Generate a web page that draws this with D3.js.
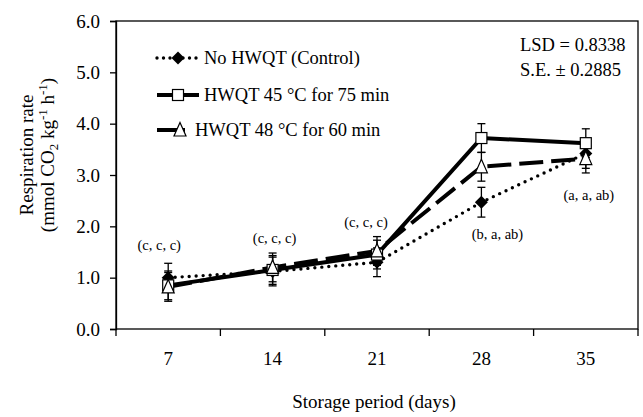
<!DOCTYPE html>
<html>
<head>
<meta charset="utf-8">
<script src="https://cdn.jsdelivr.net/npm/d3@7"></script>
<style>
  body { margin: 0; background: #fff; }
</style>
</head>
<body>
<svg id="chart" width="643" height="417"></svg>
<script>
// Storage days (categories)
const days = ["7", "14", "21", "28", "35"];
const yTicks = [0, 1, 2, 3, 4, 5, 6];

// Series values
const controlValues = [1.0, 1.12, 1.3, 2.47, 3.42];
const hwqt45Values = [0.85, 1.15, 1.45, 3.72, 3.62];
const hwqt48Values = [0.82, 1.2, 1.52, 3.16, 3.32];

// Standard error bars
const controlErr = [0.28, 0.28, 0.28, 0.29, 0.29];
const hwqt45Err = [0.28, 0.28, 0.28, 0.28, 0.28];
const hwqt48Err = [0.28, 0.28, 0.28, 0.28, 0.28];

// Significance letters per storage day
const letters = ["(c, c, c)", "(c, c, c)", "(c, c, c)", "(b, a, ab)", "(a, a, ab)"];

const FONT = "'Liberation Serif', 'Times New Roman', Times, serif";

const svg = d3.select("#chart").style("font-family", FONT);
const margin = { left: 116, right: 5, top: 21, bottom: 88 };
const width = 643, height = 417;

const x = d3.scaleBand()
    .domain(days)
    .range([margin.left, width - margin.right]);

const y = d3.scaleLinear()
    .domain([0, 6])
    .range([height - margin.bottom, margin.top]);

// plot frame
svg.append("rect")
    .attr("x", margin.left)
    .attr("y", margin.top)
    .attr("width", width - margin.right - margin.left)
    .attr("height", y(0) - margin.top)
    .attr("fill", "none")
    .attr("stroke", "#000")
    .attr("stroke-width", 1.3);

// y axis
const yAxis = svg.append("g")
    .attr("transform", `translate(${margin.left},0)`)
    .call(d3.axisLeft(y).tickValues(yTicks).tickFormat(d3.format(".1f")).tickSize(6).tickPadding(10))
    .attr("font-family", null)
    .attr("font-size", null);
yAxis.select(".domain").attr("stroke-width", 1.3);
yAxis.selectAll("line").attr("stroke-width", 1.3);
yAxis.selectAll("text")
    .style("font-family", FONT)
    .style("font-size", "19px")
    .attr("fill", "#000")
    .attr("dy", "0.33em");

// x axis: ticks sit at category boundaries
const bounds = days.map(d => x(d)).concat([x(days[days.length - 1]) + x.bandwidth()]);
const xg = svg.append("g");
xg.selectAll("line")
    .data(bounds)
    .enter()
    .append("line")
    .attr("x1", d => d).attr("x2", d => d)
    .attr("y1", y(0)).attr("y2", y(0) + 7)
    .attr("stroke", "#000")
    .attr("stroke-width", 1.3);
xg.selectAll("text")
    .data(days)
    .enter()
    .append("text")
    .attr("x", d => x(d) + x.bandwidth() / 2)
    .attr("y", 365)
    .attr("text-anchor", "middle")
    .style("font-family", FONT)
    .style("font-size", "19px")
    .text(d => d);

// axis titles
svg.append("text")
    .attr("x", 374)
    .attr("y", 408)
    .attr("text-anchor", "middle")
    .style("font-family", FONT)
    .style("font-size", "19px")
    .text("Storage period (days)");

const yTitle = svg.append("g")
    .attr("transform", "translate(33, 155) rotate(-90)");
yTitle.append("text")
    .attr("text-anchor", "middle")
    .style("font-family", FONT)
    .style("font-size", "19px")
    .text("Respiration  rate");
const yt2 = yTitle.append("text")
    .attr("y", 21)
    .attr("text-anchor", "middle")
    .style("font-family", FONT)
    .style("font-size", "19px");
yt2.append("tspan").text("(mmol CO");
yt2.append("tspan").attr("dy", 4).style("font-size", "13px").text("2");
yt2.append("tspan").attr("dy", -4).text(" kg");
yt2.append("tspan").attr("dy", -7).style("font-size", "13px").text("-1");
yt2.append("tspan").attr("dy", 7).text(" h");
yt2.append("tspan").attr("dy", -7).style("font-size", "13px").text("-1");
yt2.append("tspan").attr("dy", 7).text(")");

const series = [
    { name: "No HWQT (Control)", values: controlValues, err: controlErr, marker: "diamond", dash: "0,7", width: 3.4 },
    { name: "HWQT  45 \u00B0C for 75 min", values: hwqt45Values, err: hwqt45Err, marker: "square", dash: null, width: 4 },
    { name: "HWQT 48 \u00B0C for 60 min", values: hwqt48Values, err: hwqt48Err, marker: "triangle", dash: "24,8", width: 4 }
];

const cx = d => x(d) + x.bandwidth() / 2;

const line = d3.line()
    .x(d => cx(d.day))
    .y(d => y(d.v));

// lines
series.forEach(s => {
    const pts = days.map((d, i) => ({ day: d, v: s.values[i] }));
    svg.append("path")
        .datum(pts)
        .attr("d", line)
        .attr("fill", "none")
        .attr("stroke", "#000")
        .attr("stroke-width", s.width)
        .attr("stroke-linecap", s.dash === "0,7" ? "round" : "butt")
        .attr("stroke-dasharray", s.dash);
});

// error bars
series.forEach(s => {
    const g = svg.append("g");
    days.forEach((d, i) => {
        const top = y(s.values[i] + s.err[i]), bot = y(s.values[i] - s.err[i]);
        g.append("line").attr("x1", cx(d)).attr("x2", cx(d)).attr("y1", top).attr("y2", bot)
            .attr("stroke", "#000").attr("stroke-width", 1.3);
        [top, bot].forEach(yy => {
            g.append("line").attr("x1", cx(d) - 4).attr("x2", cx(d) + 4).attr("y1", yy).attr("y2", yy)
                .attr("stroke", "#000").attr("stroke-width", 1.3);
        });
    });
});

function drawMarker(g, type, px, py) {
    if (type === "diamond") {
        g.append("path")
            .attr("d", `M${px},${py - 6.5}L${px + 6.5},${py}L${px},${py + 6.5}L${px - 6.5},${py}Z`)
            .attr("fill", "#000");
    } else if (type === "square") {
        g.append("rect")
            .attr("x", px - 5.5).attr("y", py - 5.5).attr("width", 11).attr("height", 11)
            .attr("fill", "#fff").attr("stroke", "#000").attr("stroke-width", 1.2);
    } else {
        g.append("path")
            .attr("d", `M${px},${py - 7.5}L${px + 6},${py + 6}L${px - 6},${py + 6}Z`)
            .attr("fill", "#fff").attr("stroke", "#000").attr("stroke-width", 1.2);
    }
}

// markers
series.forEach(s => {
    const g = svg.append("g");
    days.forEach((d, i) => drawMarker(g, s.marker, cx(d), y(s.values[i])));
});

// letters above/below points
const letterPos = [
    { dx: -9, v: 1.54 }, { dx: 2, v: 1.68 }, { dx: -11, v: 1.99 }, { dx: 16, v: 1.75 }, { dx: 3, v: 2.51 }
];
svg.selectAll("text.letters")
    .data(letters)
    .enter()
    .append("text")
    .attr("class", "letters")
    .attr("x", (d, i) => cx(days[i]) + letterPos[i].dx)
    .attr("y", (d, i) => y(letterPos[i].v))
    .attr("text-anchor", "middle")
    .style("font-family", FONT)
    .style("font-size", "14.5px")
    .text(d => d);

// legend
const legendY = [58, 95, 130];
const legendLine = [[157, 198], [157, 199], [157, 185]];
const legendText = [204, 204, 195];
series.forEach((s, i) => {
    const g = svg.append("g");
    g.append("line")
        .attr("x1", legendLine[i][0]).attr("x2", legendLine[i][1])
        .attr("y1", legendY[i]).attr("y2", legendY[i])
        .attr("stroke", "#000")
        .attr("stroke-width", s.width)
        .attr("stroke-linecap", s.dash === "0,7" ? "round" : "butt")
        .attr("stroke-dasharray", s.dash === "0,7" ? "0,6.5" : null);
    drawMarker(g, s.marker, i === 2 ? 180 : 178, legendY[i]);
    g.append("text")
        .attr("x", legendText[i])
        .attr("y", legendY[i] + 6)
        .style("font-family", FONT)
        .style("font-size", "18.5px")
        .text(s.name);
});

// statistics note
svg.append("text").attr("x", 520).attr("y", 51)
    .style("font-family", FONT).style("font-size", "18.5px").text("LSD = 0.8338");
svg.append("text").attr("x", 520).attr("y", 76)
    .style("font-family", FONT).style("font-size", "18.5px").text("S.E. \u00B1 0.2885");
</script>
</body>
</html>
